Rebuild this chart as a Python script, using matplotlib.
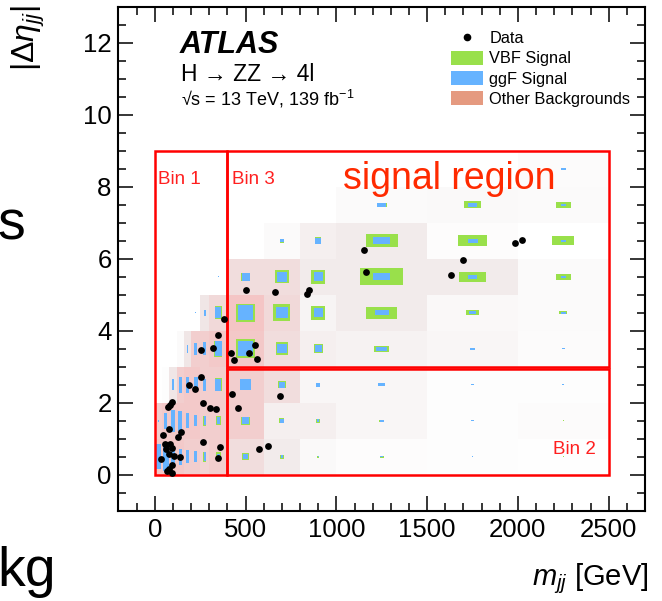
import numpy as np
import matplotlib
matplotlib.use("Agg")
import matplotlib.pyplot as plt
from matplotlib.patches import Rectangle, Patch
from matplotlib.lines import Line2D
from matplotlib.colors import LinearSegmentedColormap
from matplotlib.ticker import MultipleLocator

plt.rcParams["font.family"] = ["Liberation Sans", "DejaVu Sans"]
plt.rcParams["mathtext.fontset"] = "custom"
plt.rcParams["mathtext.rm"] = "Liberation Sans"
plt.rcParams["mathtext.it"] = "Liberation Sans:italic"
plt.rcParams["mathtext.bf"] = "Liberation Sans:bold"

# binning of the 2D histogram
mjj_edges = [0, 40, 80, 120, 160, 200, 250, 300, 400, 600, 800, 1000, 1500, 2000, 2500]
deta_edges = [0, 1, 2, 3, 4, 5, 6, 7, 8, 9]

# other backgrounds, relative intensity per bin (rows = deta bins)
bkg = [
    [.55, .55, .55, .55, .50, .50, .45, .50, .35, .20, .06, .03, .02, .01],
    [.50, .55, .55, .55, .55, .55, .50, .50, .50, .15, .15, .08, .02, .04],
    [0, .02, .25, .50, .55, .55, .50, .50, .50, .35, .08, .08, .02, .02],
    [0, 0, 0, .05, .25, .50, .50, .55, .60, .35, .15, .12, .08, .04],
    [0, 0, 0, 0, 0, 0, .25, .40, .70, .40, .10, .20, .07, .05],
    [0, 0, 0, 0, 0, 0, 0, 0, .35, .35, .20, .20, .20, .05],
    [0, 0, 0, 0, 0, 0, 0, 0, 0, .05, .15, .20, .03, 0],
    [0, 0, 0, 0, 0, 0, 0, 0, 0, 0, 0, .05, .06, .05],
    [0, 0, 0, 0, 0, 0, 0, 0, 0, 0, 0, 0, 0, .04],
]

# VBF signal, box size relative to bin size
vbf = [
    [0, 0, 0, 0, 0, .32, .28, .24, .20, .11, .05, .045, .02, .015],
    [0, 0, 0, 0, 0, 0, .28, .26, .23, .14, .11, .05, .025, .015],
    [0, 0, 0, 0, 0, 0, 0, .37, .31, .20, .11, .08, .03, .02],
    [0, 0, 0, 0, 0, 0, 0, .45, .53, .35, .24, .16, .06, .035],
    [0, 0, 0, 0, 0, 0, 0, .35, .51, .47, .39, .34, .15, .09],
    [0, 0, 0, 0, 0, 0, 0, 0, .23, .37, .39, .47, .29, .17],
    [0, 0, 0, 0, 0, 0, 0, 0, 0, .10, .18, .35, .32, .24],
    [0, 0, 0, 0, 0, 0, 0, 0, 0, 0, 0, .11, .18, .17],
    [0, 0, 0, 0, 0, 0, 0, 0, 0, 0, 0, 0, 0, 0],
]

# ggF signal, box size relative to bin size
ggf = [
    [.70, .80, .60, .45, .35, .30, .25, .17, .13, .07, .035, .035, .02, .01],
    [.05, .45, .62, .55, .42, .32, .26, .19, .18, .10, .07, .045, .025, .01],
    [0, .04, .30, .45, .45, .43, .34, .34, .30, .16, .10, .075, .03, .02],
    [0, 0, 0, .05, .22, .34, .35, .42, .42, .26, .19, .12, .05, .03],
    [0, 0, 0, 0, 0, .04, .17, .32, .42, .32, .25, .15, .08, .05],
    [0, 0, 0, 0, 0, 0, 0, .04, .22, .27, .24, .19, .10, .06],
    [0, 0, 0, 0, 0, 0, 0, 0, 0, .09, .16, .19, .11, .06],
    [0, 0, 0, 0, 0, 0, 0, 0, 0, 0, 0, .10, .10, .06],
    [0, 0, 0, 0, 0, 0, 0, 0, 0, 0, 0, 0, 0, .05],
]

data_mjj = [1151, 1163, 1699, 1633, 1982, 2022,
            502, 661, 850, 838,
            421, 436, 521, 554, 563, 379, 348,
            426, 691, 460, 574, 623,
            256, 320, 256, 188, 220, 263, 306, 339,
            72, 84, 97, 46, 79, 129, 147,
            265, 359, 346,
            57, 82, 64, 97, 79, 106, 137, 35,
            97, 79, 66, 93]
data_deta = [6.23, 5.62, 5.97, 5.54, 6.45, 6.52,
             5.12, 5.08, 5.13, 5.01,
             3.37, 3.19, 3.37, 3.60, 3.21, 4.32, 3.89,
             2.25, 2.19, 1.86, 0.72, 0.81,
             3.47, 3.51, 2.72, 2.50, 2.38, 1.98, 1.85, 1.83,
             1.87, 1.95, 2.03, 1.10, 1.27, 1.06, 1.18,
             0.90, 0.77, 0.46,
             0.84, 0.86, 0.72, 0.74, 0.58, 0.53, 0.49, 0.44,
             0.26, 0.17, 0.10, 0.05]

c_vbf = "#99e04b"
c_ggf = "#66b3ff"
c_bkg = "#e59a80"
c_red = "#ff0000"

bkg_cmap = LinearSegmentedColormap.from_list(
    "bkg", [(0, "#ffffff"), (0.1, "#f7f4f4"), (0.25, "#f0e6e6"),
            (0.4, "#f1d9d9"), (0.55, "#f3c9c9"), (1.0, "#f5bdbd")])

fig = plt.figure(figsize=(6.62, 6.01), dpi=100)
ax = fig.add_axes([0.179, 0.1502, 0.7953, 0.8386])

ax.pcolormesh(mjj_edges, deta_edges, np.array(bkg), cmap=bkg_cmap,
              vmin=0, vmax=1, shading="flat", zorder=1)

def draw_boxes(frac, color, z):
    for i in range(len(deta_edges) - 1):
        for j in range(len(mjj_edges) - 1):
            f = frac[i][j]
            if f <= 0:
                continue
            x0, x1 = mjj_edges[j], mjj_edges[j + 1]
            y0, y1 = deta_edges[i], deta_edges[i + 1]
            w, h = f * (x1 - x0), f * (y1 - y0)
            ax.add_patch(Rectangle(((x0 + x1) / 2 - w / 2, (y0 + y1) / 2 - h / 2), w, h,
                                   facecolor=color, edgecolor="none", zorder=z))

draw_boxes(vbf, c_vbf, 2)
draw_boxes(ggf, c_ggf, 3)

# region boxes
ax.add_patch(Rectangle((0, 0), 400, 9, fill=False, edgecolor=c_red, lw=1.8, zorder=4))
ax.add_patch(Rectangle((400, 3), 2100, 6, fill=False, edgecolor=c_red, lw=1.8, zorder=4))
ax.add_patch(Rectangle((400, 0), 2100, 2.93, fill=False, edgecolor=c_red, lw=1.8, zorder=4))

ax.scatter(data_mjj, data_deta, s=24, color="black", linewidths=0, zorder=5)

ax.text(17, 8.2, "Bin 1", color="#ff1f1f", fontsize=13.5, va="center", zorder=6)
ax.text(426, 8.2, "Bin 3", color="#ff1f1f", fontsize=13.5, va="center", zorder=6)
ax.text(2430, 0.69, "Bin 2", color="#ff1f1f", fontsize=13.5, va="center", ha="right", zorder=6)
ax.text(1039, 7.95, "signal region", color="#ff2a00", fontsize=27, va="baseline", zorder=6)

ax.text(0.117, 0.909, "ATLAS", transform=ax.transAxes, fontsize=22,
        fontweight="bold", fontstyle="italic", va="baseline")
ax.text(0.119, 0.853, "H \u2192 ZZ \u2192 4l", transform=ax.transAxes, fontsize=16.5, va="baseline")
ax.text(0.119, 0.804, "\u221as = 13 TeV, 139 fb$^{-1}$", transform=ax.transAxes,
        fontsize=13, va="baseline")

handles = [
    Line2D([], [], marker="o", color="black", ls="none", markersize=4.5),
    Patch(facecolor=c_vbf, edgecolor="none"),
    Patch(facecolor=c_ggf, edgecolor="none"),
    Patch(facecolor=c_bkg, edgecolor="none"),
]
ax.legend(handles, ["Data", "VBF Signal", "ggF Signal", "Other Backgrounds"],
          loc="upper left", bbox_to_anchor=(0.631, 0.953), frameon=False,
          fontsize=11.8, borderpad=0, borderaxespad=0, handlelength=2.0,
          handleheight=0.95, handletextpad=0.36, labelspacing=0.28)

ax.set_xlim(-200, 2700)
ax.set_ylim(-1, 13)
ax.set_xticks(range(0, 2501, 500))
ax.set_yticks(range(0, 13, 2))
ax.xaxis.set_minor_locator(MultipleLocator(100))
ax.yaxis.set_minor_locator(MultipleLocator(0.5))
ax.tick_params(which="both", direction="in", top=True, right=True, width=1.1)
ax.tick_params(which="major", length=10.5, labelsize=18.5, pad=5)
ax.tick_params(which="minor", length=5.5)
for sp in ax.spines.values():
    sp.set_linewidth(1.5)

ax.set_xlabel("$m_{jj}$ [GeV]", fontsize=21, loc="right")
ax.xaxis.set_label_coords(1.007, -0.1)
ax.set_ylabel(r"$|\mathit{\Delta}\eta_{jj}|$", fontsize=23, loc="top")
ax.yaxis.set_label_coords(-0.135, 1.003)

# pieces of labels from the neighbouring panel, cut by the crop
fig.text(0.038, 0.601, "s", fontsize=40, ha="right", va="baseline")
fig.text(0.085, 0.025, "kg", fontsize=40, ha="right", va="baseline")

fig.savefig("out.png", dpi=100)
